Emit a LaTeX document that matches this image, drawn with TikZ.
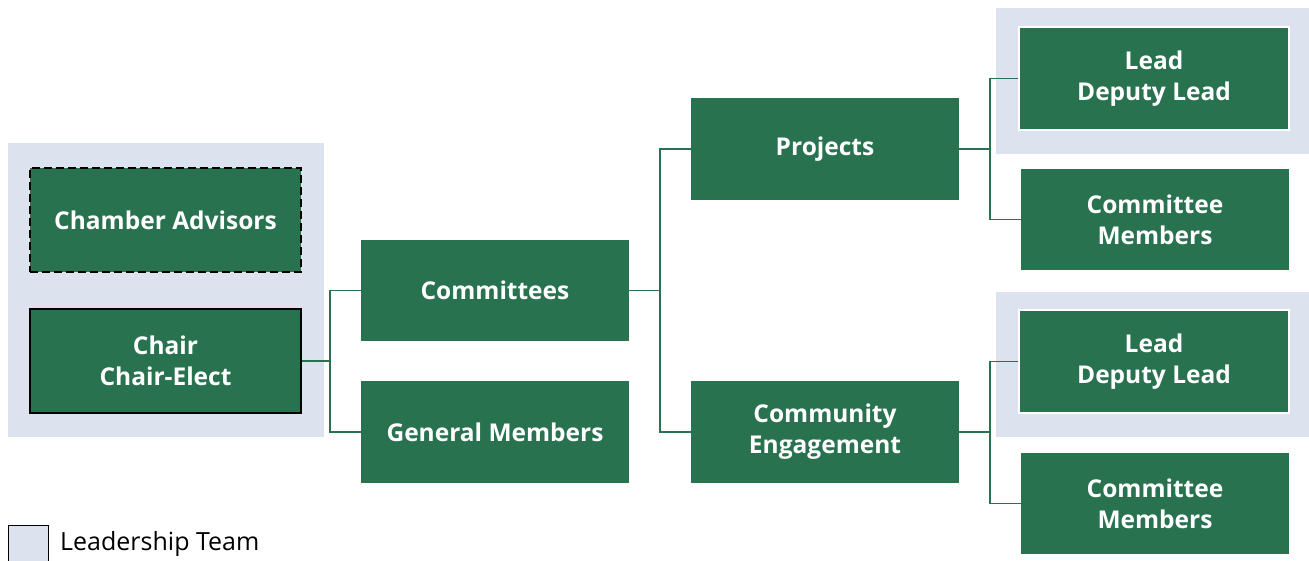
\documentclass[tikz,border=0pt]{standalone}
\usepackage{fontspec}
\setmainfont{Open Sans}
\definecolor{tgreen}{HTML}{287250}
\definecolor{lteam}{HTML}{DCE3EE}
\begin{document}
\begin{tikzpicture}[x=1pt,y=-1pt,
  box/.style={fill=tgreen,text=white,font=\fontsize{24.5}{31}\selectfont\bfseries,align=center,inner sep=0pt},
  conn/.style={draw=tgreen,line width=1.8pt},
]
\useasboundingbox (0,0) rectangle (1309,560);
% backgrounds
\fill[lteam] (8,143) rectangle (324,437);
\fill[lteam] (996,8) rectangle (1309,154);
\fill[lteam] (996,292) rectangle (1309,437);
% nodes
\node[box,draw=black,dash pattern=on 8pt off 4pt,line width=1.5pt,minimum width=271pt,minimum height=104pt] (adv) at (165.5,220) {Chamber Advisors};
\node[box,draw=black,line width=1.5pt,minimum width=271pt,minimum height=104pt] (chair) at (165.5,361) {Chair\\Chair-Elect};
\node[box,minimum width=268pt,minimum height=101pt] (comm) at (495,290.5) {Committees};
\node[box,minimum width=268pt,minimum height=102pt] (gen) at (495,432) {General Members};
\node[box,minimum width=268pt,minimum height=102pt] (proj) at (825,149) {Projects};
\node[box,minimum width=268pt,minimum height=102pt] (ce) at (825,432) {Community\\Engagement};
\node[box,draw=white,line width=1.3pt,minimum width=270pt,minimum height=103pt] (lead1) at (1154,78.5) {Lead\\Deputy Lead};
\node[box,minimum width=268pt,minimum height=101pt] (cm1) at (1155,219.5) {Committee\\Members};
\node[box,draw=white,line width=1.3pt,minimum width=270pt,minimum height=103pt] (lead2) at (1154,361.5) {Lead\\Deputy Lead};
\node[box,minimum width=268pt,minimum height=101pt] (cm2) at (1155,503.5) {Committee\\Members};
% connectors
\coordinate (j1) at (330,0);
\coordinate (j2) at (660,0);
\coordinate (j3) at (990,0);
\draw[conn] (chair.east) -- (chair.east -| j1) |- (comm.west);
\draw[conn] (chair.east -| j1) |- (gen.west);
\draw[conn] (comm.east) -- (comm.east -| j2) |- (proj.west);
\draw[conn] (comm.east -| j2) |- (ce.west);
\draw[conn] (proj.east) -- (proj.east -| j3) |- (lead1.west);
\draw[conn] (proj.east -| j3) |- (cm1.west);
\draw[conn] (ce.east) -- (ce.east -| j3) |- (lead2.west);
\draw[conn] (ce.east -| j3) |- (cm2.west);
% legend
\node[fill=lteam,draw=black,line width=1pt,minimum width=40pt,minimum height=36pt,inner sep=0pt] (leg) at (28.5,543) {};
\node[anchor=west,font=\fontsize{25}{28}\selectfont,inner sep=0pt] (legt) at (60,544) {Leadership Team};
\end{tikzpicture}
\end{document}
